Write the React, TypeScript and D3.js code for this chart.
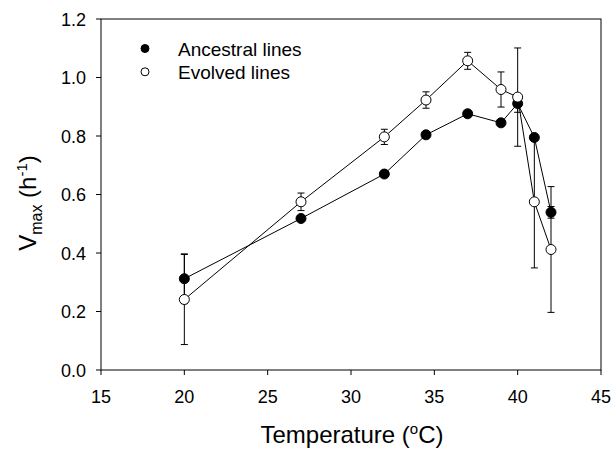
import React from "react";
import * as d3 from "d3";

const temperatures = [20, 27, 32, 34.5, 37, 39, 40, 41, 42];
const ancestral = [0.312, 0.518, 0.67, 0.804, 0.876, 0.845, 0.911, 0.795, 0.539];
const ancestralErr = [0.085, 0, 0, 0, 0, 0, 0.03, 0, 0.02];
const evolved = [0.241, 0.575, 0.797, 0.923, 1.057, 0.959, 0.933, 0.575, 0.412];
const evolvedErr = [0.154, 0.03, 0.026, 0.028, 0.029, 0.06, 0.168, 0.226, 0.215];
const xTicks = [15, 20, 25, 30, 35, 40, 45];
const yTicks = [0, 0.2, 0.4, 0.6, 0.8, 1.0, 1.2];
const seriesNames = ["Ancestral lines", "Evolved lines"];

const W = 613, H = 450;
const L = 101, R = 601, T = 19, B = 370;
const FONT = "'Liberation Sans', Arial, Helvetica, sans-serif";

export default function App() {
  const x = d3.scaleLinear().domain([15, 45]).range([L, R]);
  const y = d3.scaleLinear().domain([0, 1.2]).range([B, T]);
  const line = d3.line<[number, number]>().x(d => x(d[0])).y(d => y(d[1]));
  const series = [
    { vals: ancestral, err: ancestralErr, fill: "#000" },
    { vals: evolved, err: evolvedErr, fill: "#fff" },
  ];
  const cap = 3.5;
  return (
    <svg width={W} height={H} style={{ position: "absolute", left: 0, top: 0, background: "#fff" }} fontFamily={FONT}>
      <rect x={0} y={0} width={W} height={H} fill="#fff" />
      {/* frame */}
      <rect x={L} y={T} width={R - L} height={B - T} fill="none" stroke="#000" strokeWidth={1} />
      {/* x ticks */}
      {xTicks.map(t => (
        <g key={"x" + t}>
          <line x1={x(t)} x2={x(t)} y1={B} y2={B + 5} stroke="#000" />
          <text x={x(t)} y={403} textAnchor="middle" fontSize={18} fill="#000">{t}</text>
        </g>
      ))}
      {yTicks.map(t => (
        <g key={"y" + t}>
          <line x1={L - 5} x2={L} y1={y(t)} y2={y(t)} stroke="#000" />
          <text x={86} y={y(t) + 6.5} textAnchor="end" fontSize={18} fill="#000">{t.toFixed(1)}</text>
        </g>
      ))}
      {/* axis titles */}
      <text x={352} y={443} textAnchor="middle" fontSize={24} fill="#000">
        Temperature (<tspan dy={-9} fontSize={15}>o</tspan><tspan dy={9}>C)</tspan>
      </text>
      <text transform={`translate(36,203) rotate(-90)`} textAnchor="middle" fontSize={24} fill="#000">
        V<tspan dy={6} fontSize={16}>max</tspan><tspan dy={-6}> (h</tspan><tspan dy={-9} fontSize={15}>-1</tspan><tspan dy={9}>)</tspan>
      </text>
      {/* error bars */}
      {series.map((s, si) =>
        temperatures.map((t, i) => {
          const e = s.err[i];
          if (!e) return null;
          const cx = x(t);
          const y1 = y(s.vals[i] + e), y2 = y(s.vals[i] - e);
          return (
            <g key={`e${si}-${i}`} stroke="#000" strokeWidth={1}>
              <line x1={cx} x2={cx} y1={y1} y2={y2} />
              <line x1={cx - cap} x2={cx + cap} y1={y1} y2={y1} />
              <line x1={cx - cap} x2={cx + cap} y1={y2} y2={y2} />
            </g>
          );
        })
      )}
      {/* lines */}
      {series.map((s, si) => (
        <path key={"l" + si} d={line(temperatures.map((t, i) => [t, s.vals[i]]) as [number, number][]) || ""} fill="none" stroke="#000" strokeWidth={1} />
      ))}
      {/* markers */}
      {series.map((s, si) =>
        temperatures.map((t, i) => (
          <circle key={`m${si}-${i}`} cx={x(t)} cy={y(s.vals[i])} r={5} fill={s.fill} stroke="#000" strokeWidth={1} />
        ))
      )}
      {/* legend */}
      {seriesNames.map((n, i) => (
        <g key={"lg" + i}>
          <circle cx={145} cy={48.5 + i * 23.3} r={4} fill={series[i].fill} stroke="#000" strokeWidth={1} />
          <text x={178} y={55.5 + i * 23.3} fontSize={19} fill="#000">{n}</text>
        </g>
      ))}
    </svg>
  );
}
